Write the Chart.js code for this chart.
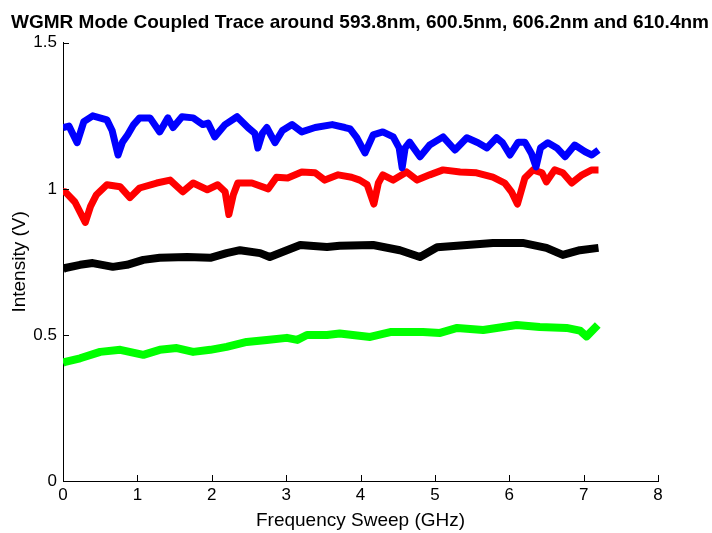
<!DOCTYPE html>
<html>
<head>
<meta charset="utf-8">
<title>WGMR Mode Coupled Trace</title>
<script src="https://cdn.jsdelivr.net/npm/chart.js@4.4.1/dist/chart.umd.min.js"></script>
<style>
  html, body { margin: 0; padding: 0; background: #fff; }
  #traceChart { display: block; }
</style>
</head>
<body>
<canvas id="traceChart" width="712" height="533"></canvas>
<script>
// sweep positions (GHz) and detector voltage (V) for each resonance
const blueFreq = [0.00, 0.08, 0.19, 0.28, 0.40, 0.59, 0.66, 0.74, 0.80, 0.87, 0.95, 1.03, 1.17, 1.30, 1.41, 1.48, 1.60, 1.75, 1.88, 1.95,
  2.04, 2.18, 2.34, 2.49, 2.58, 2.62, 2.68, 2.74, 2.85, 2.95, 3.08, 3.21, 3.39, 3.62, 3.79, 3.86, 3.95, 4.06, 4.17, 4.30,
  4.44, 4.52, 4.56, 4.60, 4.66, 4.80, 4.93, 5.11, 5.27, 5.43, 5.58, 5.70, 5.83, 5.91, 6.01, 6.12, 6.21, 6.30, 6.36, 6.42,
  6.52, 6.64, 6.75, 6.88, 7.02, 7.11, 7.20];
const blueVolt = [1.21, 1.215, 1.158, 1.23, 1.25, 1.236, 1.20, 1.116, 1.16, 1.185, 1.22, 1.243, 1.243, 1.195, 1.243, 1.21, 1.247, 1.243, 1.22, 1.225,
  1.178, 1.22, 1.247, 1.209, 1.19, 1.14, 1.19, 1.21, 1.158, 1.20, 1.22, 1.195, 1.21, 1.22, 1.21, 1.205, 1.175, 1.123, 1.185, 1.195,
  1.178, 1.14, 1.072, 1.14, 1.16, 1.11, 1.15, 1.178, 1.133, 1.175, 1.158, 1.14, 1.175, 1.158, 1.116, 1.16, 1.16, 1.12, 1.075, 1.14,
  1.158, 1.14, 1.11, 1.15, 1.127, 1.116, 1.133];

const redFreq = [0.00, 0.03, 0.16, 0.30, 0.37, 0.45, 0.59, 0.77, 0.90, 1.03, 1.26, 1.44, 1.61, 1.75, 1.94, 2.08, 2.18, 2.23, 2.29, 2.35,
  2.54, 2.76, 2.87, 3.02, 3.21, 3.39, 3.52, 3.70, 3.88, 3.99, 4.09, 4.18, 4.24, 4.30, 4.44, 4.62, 4.76, 4.93, 5.11, 5.34,
  5.56, 5.78, 5.94, 6.03, 6.11, 6.21, 6.32, 6.44, 6.50, 6.61, 6.72, 6.84, 6.98, 7.11, 7.20];
const redVolt = [0.99, 0.99, 0.955, 0.885, 0.94, 0.98, 1.014, 1.007, 0.97, 1.003, 1.02, 1.03, 0.99, 1.02, 0.997, 1.014, 0.99, 0.912, 0.98, 1.02,
  1.02, 1.00, 1.04, 1.037, 1.058, 1.055, 1.03, 1.048, 1.04, 1.03, 1.014, 0.948, 1.02, 1.048, 1.03, 1.058, 1.03, 1.048, 1.065, 1.058,
  1.055, 1.04, 1.02, 0.99, 0.948, 1.037, 1.065, 1.055, 1.024, 1.065, 1.055, 1.02, 1.048, 1.065, 1.065];

const blackFreq = [0.00, 0.03, 0.23, 0.40, 0.67, 0.86, 1.08, 1.30, 1.67, 1.98, 2.20, 2.38, 2.65, 2.78, 3.01, 3.19, 3.55, 3.72, 4.17, 4.53,
  4.80, 5.03, 5.43, 5.78, 6.18, 6.50, 6.72, 6.95, 7.20];
const blackVolt = [0.725, 0.729, 0.74, 0.746, 0.733, 0.74, 0.757, 0.764, 0.767, 0.764, 0.78, 0.79, 0.78, 0.767, 0.79, 0.808, 0.801, 0.805, 0.808, 0.79,
  0.767, 0.80, 0.808, 0.815, 0.815, 0.798, 0.774, 0.79, 0.798];

const greenFreq = [0.00, 0.03, 0.23, 0.50, 0.77, 1.08, 1.30, 1.53, 1.75, 1.98, 2.20, 2.47, 2.74, 3.01, 3.15, 3.28, 3.55, 3.72, 4.13, 4.40,
  4.84, 5.07, 5.30, 5.65, 6.10, 6.41, 6.77, 6.95, 7.04, 7.19];
const greenVolt = [0.405, 0.408, 0.42, 0.442, 0.449, 0.432, 0.449, 0.455, 0.442, 0.449, 0.459, 0.476, 0.483, 0.49, 0.483, 0.50, 0.50, 0.505, 0.493, 0.51,
  0.51, 0.507, 0.524, 0.517, 0.534, 0.527, 0.524, 0.515, 0.495, 0.534];

const xTicks = [0, 1, 2, 3, 4, 5, 6, 7, 8];
const yTicks = [0, 0.5, 1, 1.5];

const FONT = "'Liberation Sans', Arial, Helvetica, sans-serif";

function toPoints(xs, ys) {
  return xs.map((x, i) => ({ x: x, y: ys[i] }));
}

function trace(label, xs, ys, color, width) {
  return {
    label: label,
    data: toPoints(xs, ys),
    borderColor: color,
    backgroundColor: color,
    borderWidth: width,
    borderJoinStyle: "round",
    borderCapStyle: "butt",
    pointRadius: 0,
    tension: 0,
    fill: false
  };
}

// matlab style ticks: short marks pointing into the plot
const innerTicks = {
  id: "innerTicks",
  afterDraw(chart) {
    const { ctx, chartArea, scales } = chart;
    const len = 6;
    ctx.save();
    ctx.strokeStyle = "#000";
    ctx.lineWidth = 1;
    ctx.beginPath();
    xTicks.forEach(v => {
      const px = Math.round(scales.x.getPixelForValue(v)) + 0.5;
      ctx.moveTo(px, chartArea.bottom);
      ctx.lineTo(px, chartArea.bottom - len);
    });
    yTicks.forEach(v => {
      const py = Math.round(scales.y.getPixelForValue(v)) + 0.5;
      ctx.moveTo(chartArea.left, py);
      ctx.lineTo(chartArea.left + len, py);
    });
    ctx.stroke();
    ctx.restore();
  }
};

const ctx = document.getElementById("traceChart");

new Chart(ctx, {
  type: "line",
  data: {
    datasets: [
      trace("593.8nm", blueFreq, blueVolt, "#0000ff", 7),
      trace("600.5nm", redFreq, redVolt, "#ff0000", 7),
      trace("606.2nm", blackFreq, blackVolt, "#000000", 8),
      trace("610.4nm", greenFreq, greenVolt, "#00ff00", 8)
    ]
  },
  options: {
    responsive: false,
    animation: false,
    layout: { padding: { left: 8, right: 0, top: 0, bottom: 0 } },
    plugins: {
      legend: { display: false },
      tooltip: { enabled: false },
      title: {
        display: true,
        text: "WGMR Mode Coupled Trace around 593.8nm, 600.5nm, 606.2nm and 610.4nm",
        color: "#000",
        font: { family: FONT, size: 19, weight: "bold", lineHeight: 1.2 },
        padding: { top: 11, bottom: 9 }
      }
    },
    scales: {
      x: {
        type: "linear",
        min: 0,
        max: 8,
        afterBuildTicks: s => { s.ticks = xTicks.map(v => ({ value: v })); },
        afterFit: s => { s.height = 52; },
        grid: { display: false, drawTicks: false },
        border: { display: true, color: "#000", width: 1 },
        ticks: { color: "#000", padding: 4, font: { family: FONT, size: 17 }, callback: v => String(v) },
        title: {
          display: true,
          text: "Frequency Sweep (GHz)",
          color: "#000",
          font: { family: FONT, size: 19 },
          padding: { top: 0, bottom: 1 }
        }
      },
      y: {
        min: 0,
        max: 1.5,
        afterBuildTicks: s => { s.ticks = yTicks.map(v => ({ value: v })); },
        afterFit: s => { s.width = 55; },
        grid: { display: false, drawTicks: false },
        border: { display: true, color: "#000", width: 1 },
        ticks: { color: "#000", padding: 6, font: { family: FONT, size: 17 }, callback: v => String(v) },
        title: {
          display: true,
          text: "Intensity (V)",
          color: "#000",
          font: { family: FONT, size: 19 },
          padding: { top: 0, bottom: 0 }
        }
      },
      // empty margin to the right of the axes
      gap: {
        position: "right",
        min: 0,
        max: 1,
        afterFit: s => { s.width = 54; },
        grid: { display: false, drawTicks: false },
        border: { display: false },
        ticks: { display: false }
      }
    }
  },
  plugins: [innerTicks]
});
</script>
</body>
</html>
